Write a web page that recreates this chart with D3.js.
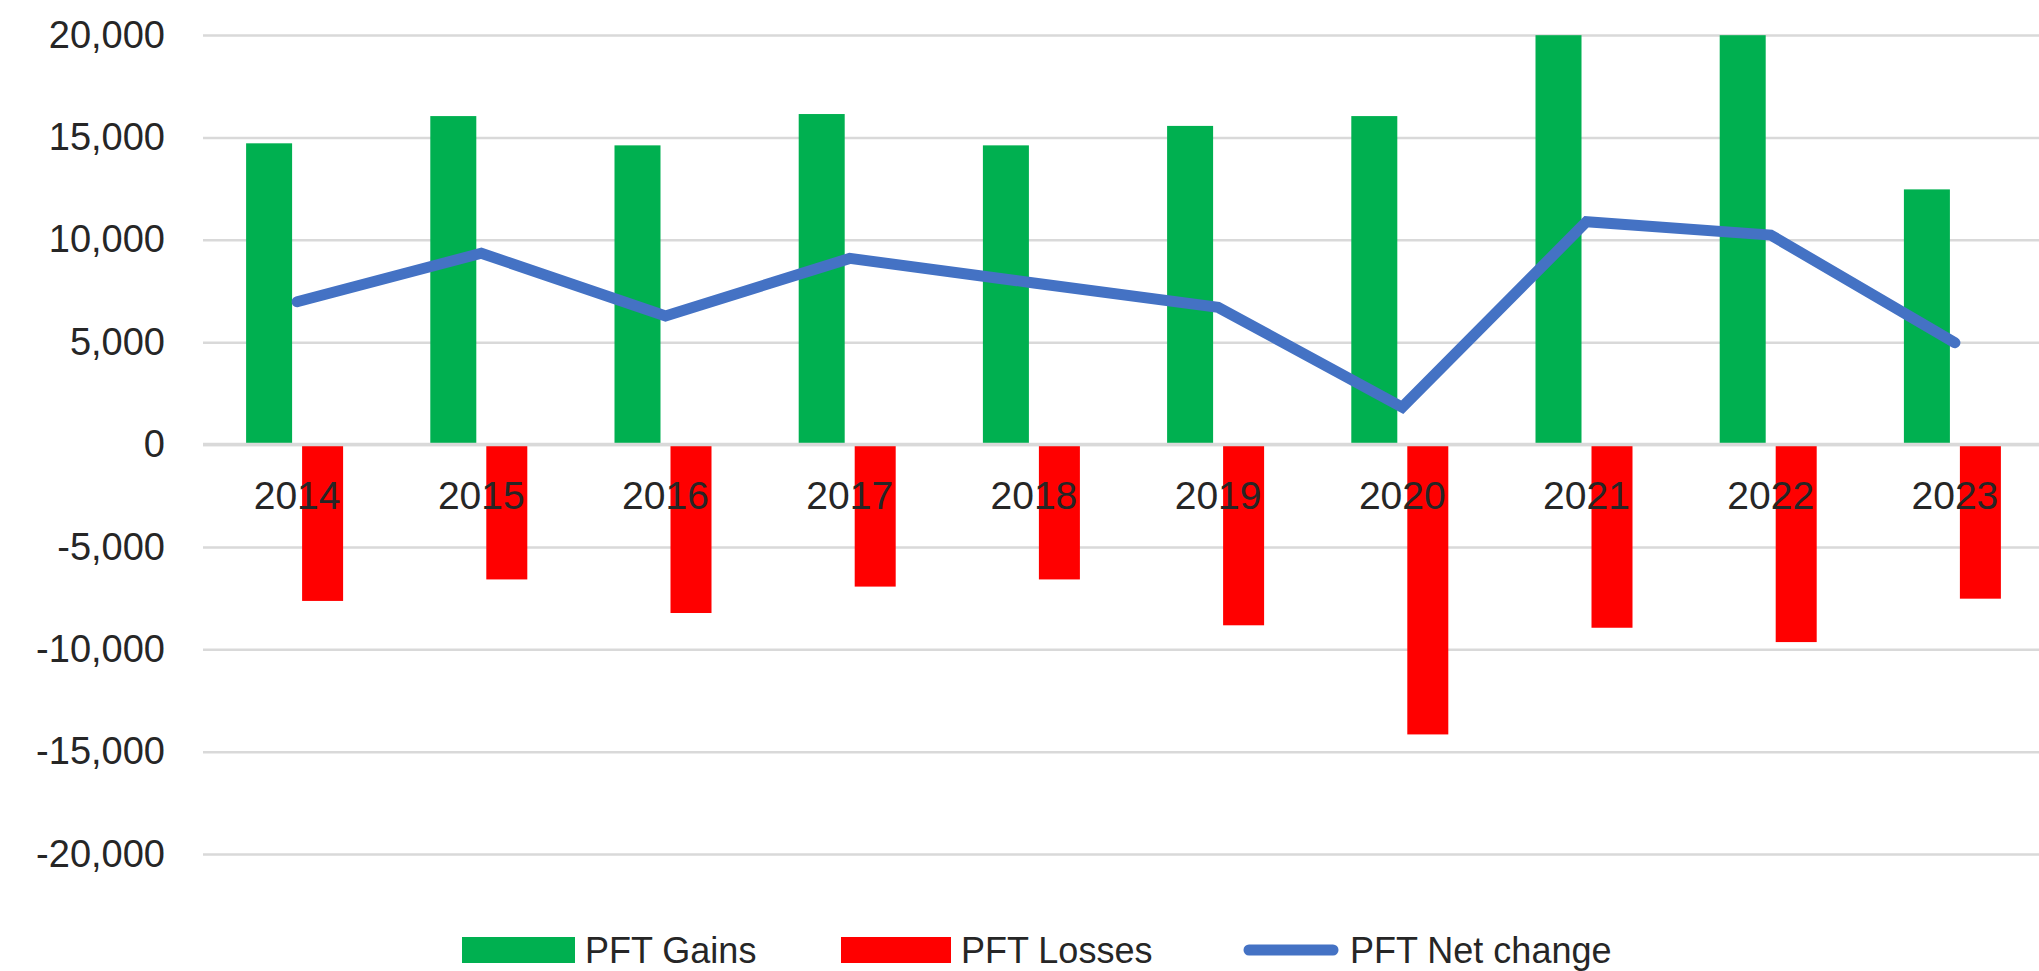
<!DOCTYPE html>
<html>
<head>
<meta charset="utf-8">
<script src="https://cdn.jsdelivr.net/npm/d3@7"></script>
<style>
  body { margin: 0; background: #fff; }
  svg { display: block; font-family: "Liberation Sans", Arial, sans-serif; }
</style>
</head>
<body>
<svg width="2039" height="971"></svg>
<script>
// values
const years = ["2014", "2015", "2016", "2017", "2018", "2019", "2020", "2021", "2022", "2023"];
const gains = [14710, 16040, 14610, 16140, 14610, 15560, 16040, 19990, 19990, 12460];
const losses = [-7640, -6590, -8230, -6940, -6590, -8830, -14160, -8950, -9650, -7530];
const netChange = [6970, 9340, 6280, 9090, 7890, 6700, 1820, 10880, 10230, 4970];
const yTicks = [-20000, -15000, -10000, -5000, 0, 5000, 10000, 15000, 20000];
const legendLabels = ["PFT Gains", "PFT Losses", "PFT Net change"];

const GREEN = "#00b050", RED = "#ff0000", BLUE = "#4472c4", GRID = "#d9d9d9";

var svg = d3.select("svg"),
  plotLeft = 203,
  plotRight = 2039;

var x = d3.scaleBand().domain(years).range([205, 2047]).padding(0);
var y = d3.scaleLinear().domain([-20000, 20000]).range([854, 35]);
var center = d => x(d) + x.bandwidth() / 2;

var fmt = d3.formatLocale({ decimal: ".", thousands: ",", grouping: [3], currency: ["", ""], minus: "-" }).format(",");

// gridlines
svg.append("g")
  .attr("transform", `translate(${plotLeft},0)`)
  .call(d3.axisLeft(y).tickValues(yTicks).tickSize(-(plotRight - plotLeft)).tickFormat(""))
  .call(g => g.select(".domain").remove())
  .call(g => g.selectAll("line").attr("stroke", GRID).attr("stroke-width", 2.5));

// y labels
svg.append("g")
  .attr("transform", `translate(${plotLeft},0)`)
  .call(d3.axisLeft(y).tickValues(yTicks).tickSize(0).tickPadding(38).tickFormat(fmt))
  .call(g => g.select(".domain").remove())
  .call(g => g.selectAll("text")
    .attr("font-size", 38)
    .attr("font-family", "'Liberation Sans', Arial, sans-serif")
    .attr("fill", "#262626"));

// bars
svg.append("g").selectAll("rect")
  .data(years)
  .enter()
  .append("rect")
  .attr("x", d => center(d) - 51)
  .attr("width", 46)
  .attr("y", (d, i) => y(gains[i]))
  .attr("height", (d, i) => y(0) - y(gains[i]))
  .attr("fill", GREEN);

svg.append("g").selectAll("rect")
  .data(years)
  .enter()
  .append("rect")
  .attr("x", d => center(d) + 5)
  .attr("width", 41)
  .attr("y", y(0))
  .attr("height", (d, i) => y(losses[i]) - y(0))
  .attr("fill", RED);

// horizontal axis line on top of bars
svg.append("line")
  .attr("x1", plotLeft).attr("x2", plotRight)
  .attr("y1", y(0)).attr("y2", y(0))
  .attr("stroke", GRID).attr("stroke-width", 3.5);

// category labels
svg.append("g").selectAll("text")
  .data(years)
  .enter()
  .append("text")
  .attr("x", d => center(d))
  .attr("y", 509)
  .attr("text-anchor", "middle")
  .attr("font-size", 39)
  .attr("fill", "#262626")
  .text(d => d);

// net change line
var line = d3.line()
  .x((d, i) => center(years[i]))
  .y(d => y(d));

svg.append("path")
  .datum(netChange)
  .attr("d", line)
  .attr("fill", "none")
  .attr("stroke", BLUE)
  .attr("stroke-width", 11)
  .attr("stroke-linejoin", "miter")
  .attr("stroke-linecap", "round");

// legend
var legendX = [462, 841, 1244];
var lg = svg.selectAll(".legendItem")
  .data(legendLabels)
  .enter()
  .append("g")
  .attr("class", "legendItem")
  .attr("transform", (d, i) => `translate(${legendX[i]},0)`);

lg.filter((d, i) => i < 2)
  .append("rect")
  .attr("x", 0)
  .attr("y", 937)
  .attr("width", (d, i) => (i == 0 ? 113 : 110))
  .attr("height", 26)
  .attr("fill", (d, i) => (i == 0 ? GREEN : RED));

lg.filter((d, i) => i == 2)
  .append("line")
  .attr("x1", 5).attr("x2", 89)
  .attr("y1", 950).attr("y2", 950)
  .attr("stroke", BLUE)
  .attr("stroke-width", 11)
  .attr("stroke-linecap", "round");

lg.append("text")
  .attr("x", (d, i) => [123, 120, 106][i])
  .attr("y", 963)
  .attr("font-size", 36)
  .attr("fill", "#262626")
  .text(d => d);
</script>
</body>
</html>
